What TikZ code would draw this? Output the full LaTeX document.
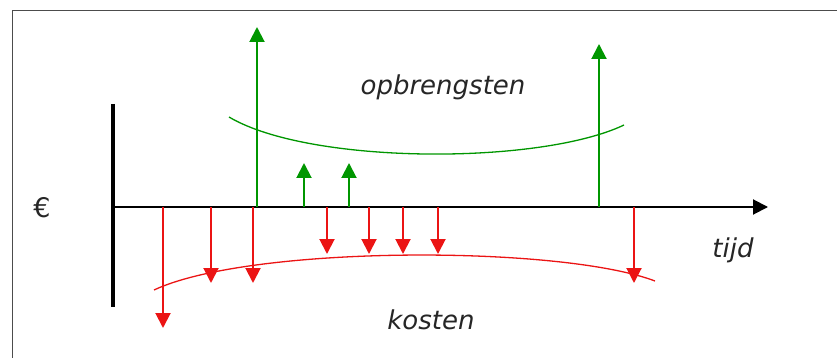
\documentclass[tikz,border=0pt]{standalone}
\usepackage{fontspec}
\setmainfont{DejaVu Sans}
\usetikzlibrary{arrows.meta}
\definecolor{opbrgreen}{RGB}{0,150,0}
\definecolor{kostred}{RGB}{235,20,20}
\tikzset{
  opbr/.style={opbrgreen,line width=2pt,-{Triangle[width=15pt,length=15pt]}},
  kost/.style={kostred,line width=2pt,-{Triangle[width=15pt,length=15pt]}},
  lbl/.style={font=\fontsize{26}{30}\selectfont\itshape,text=black!85}
}
\begin{document}
\begin{tikzpicture}[x=1pt,y=-1pt]
\useasboundingbox (0,0) rectangle (837,358);
\draw[black!70,line width=1pt] (12,358)--(12,11)--(837,11);
% axis and bar
\coordinate (o) at (113,207);\coordinate (t) at (768,207);
\draw[line width=2pt,-{Triangle[width=15pt,length=15pt]}] (o)--(t);
\draw[line width=4.5pt] (113,104)--(113,307);
\node[font=\fontsize{27}{30}\selectfont,text=black!85] (euro) at (42,208) {€};
\node[lbl] (tijd) at (733,250) {tijd};
\node[lbl] (opbr) at (443,87) {opbrengsten};
\node[lbl] (kost) at (431,320) {kosten};
% curves
\draw[opbrgreen,line width=1.3pt] (229,117) .. controls (310,165) and (540,165) .. (624,125);
\draw[kostred,line width=1.3pt] (154,290) .. controls (250,245) and (560,245) .. (655,281);
% cash flows
\foreach \x/\y [count=\i] in {257/27,304/163,349/163,599/44} {\coordinate (g\i) at (\x,207);\coordinate (gt\i) at (\x,\y);\draw[opbr] (g\i)--(gt\i);}
\foreach \x/\y [count=\i] in {163/328,211/283,253/283,327/254,369/254,403/254,438/254,634/283} {\coordinate (r\i) at (\x,207);\coordinate (rt\i) at (\x,\y);\draw[kost] (r\i)--(rt\i);}
\end{tikzpicture}
\end{document}
